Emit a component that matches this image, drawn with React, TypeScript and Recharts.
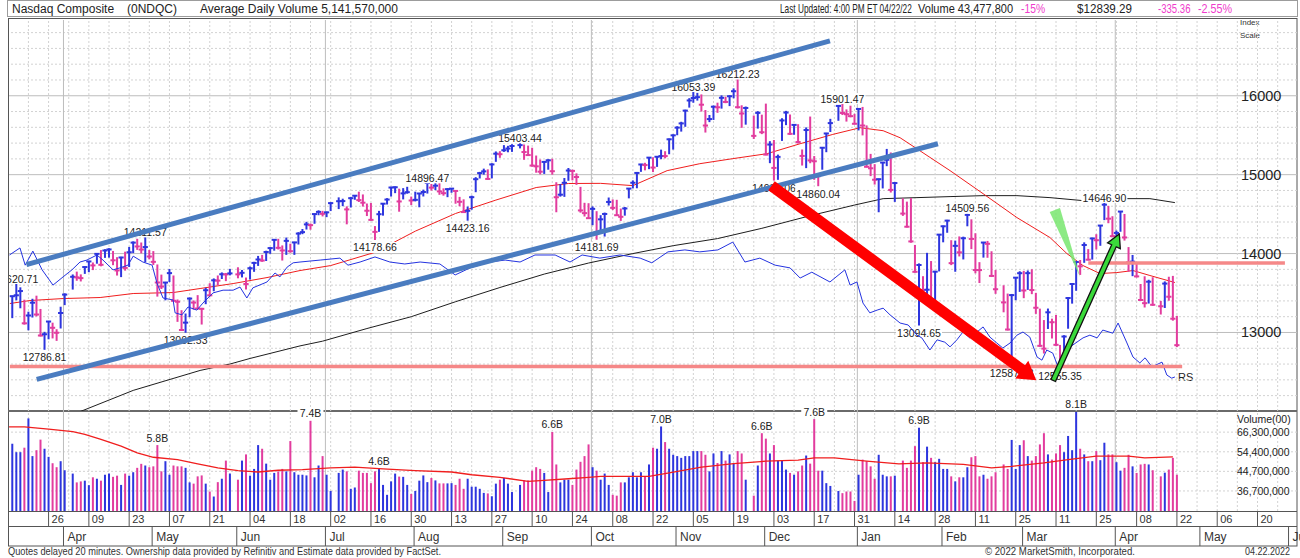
import React from 'react';
import { Bar, ComposedChart, Line, ReferenceLine, Scatter, XAxis, YAxis } from 'recharts';

const FONT = 'Arial, "Liberation Sans", Helvetica, sans-serif';
const UP = '#2d35de';
const DOWN = '#e23c9e';
const MAGENTA = '#f03ccc';

// one entry per weekday, Mon 15 Mar 2021 .. Fri 22 Apr 2022; null = market closed
const CLOSE = [
  13459.71, 13471.57, 13525.2, 13116.17, 13215.24,
  13377.54, 13227.7, 12961.89, 12977.68, 13138.73,
  13059.65, 12996.76, 13246.87, 13480.11, null,
  13705.59, 13698.38, 13688.84, 13829.31, 13900.19,
  13850.0, 13996.1, 13857.84, 14038.76, 14052.34,
  13914.77, 13786.27, 13950.22, 13818.41, 14016.81,
  14138.78, 14090.22, 14051.03, 14082.55, 13962.68,
  13895.12, 13633.5, 13582.42, 13632.84, 13752.24,
  13401.86, 13389.43, 13031.68, 13124.99, 13429.98,
  13379.05, 13303.64, 13299.74, 13535.74, 13470.99,
  13661.17, 13657.17, 13738.0, 13736.28, 13748.74,
  null, 13736.48, 13756.33, 13614.51, 13814.49,
  13881.72, 13924.98, 13911.75, 14020.33, 14069.42,
  14174.14, 14072.86, 14039.68, 14161.35, 14030.38,
  14141.48, 14253.27, 14271.73, 14369.71, 14360.39,
  14500.51, 14528.33, 14503.95, 14522.38, 14639.33,
  null, 14663.64, 14665.06, 14559.79, 14701.92,
  14733.24, 14677.65, 14644.95, 14543.13, 14427.24,
  14274.98, 14498.88, 14631.95, 14684.6, 14836.99,
  14840.71, 14660.58, 14762.58, 14778.26, 14672.68,
  14681.07, 14761.29, 14780.53, 14895.12, 14835.76,
  14860.18, 14788.09, 14765.14, 14816.26, 14822.9,
  14793.76, 14656.18, 14525.91, 14541.79, 14714.66,
  14942.65, 15019.8, 15041.86, 14945.81, 15129.5,
  15265.89, 15259.24, 15309.38, 15331.18, 15363.52,
  null, 15374.33, 15286.64, 15248.25, 15115.49,
  15105.58, 15037.76, 15161.53, 15181.92, 15043.97,
  14713.9, 14746.4, 14896.85, 15052.24, 15047.7,
  14969.97, 14546.68, 14512.44, 14448.58, 14566.7,
  14255.49, 14433.83, 14501.91, 14654.02, 14579.54,
  14486.2, 14465.92, 14571.64, 14823.43, 14897.34,
  15021.81, 15129.09, 15121.68, 15215.7, 15090.2,
  15226.71, 15235.84, 15235.72, 15448.12, 15498.39,
  15595.92, 15649.6, 15811.58, 15940.31, 15971.59,
  15982.36, 15886.54, 15622.71, 15704.28, 15860.96,
  15853.85, 15973.86, 15921.57, 15993.71, 16057.44,
  15854.76, 15775.14, 15845.23, null, 15491.66,
  15782.83, 15537.69, 15254.05, 15381.32, 15085.47,
  15225.15, 15686.92, 15786.99, 15517.37, 15630.6,
  15413.28, 15237.64, 15565.58, 15180.43, 15169.68,
  14980.94, 15341.09, 15521.89, 15653.37, null,
  15871.26, 15781.72, 15766.22, 15741.56, 15644.97,
  15832.8, 15622.72, 15100.17, 15080.86, 14935.9,
  14942.83, 15153.45, 15188.39, 14806.81, 14893.75,
  null, 14506.9, 14340.26, 14154.02, 13768.92,
  13855.13, 13539.29, 13542.12, 13352.78, 13770.57,
  14239.88, 14346.0, 14417.55, 13878.82, 14098.01,
  14015.67, 14194.45, 14490.37, 14185.64, 13791.15,
  13790.92, 14139.76, 14124.09, 13716.72, 13548.07,
  null, 13381.52, 13037.49, 13473.59, 13694.62,
  13751.4, 13532.46, 13752.02, 13537.94, 13313.44,
  12830.96, 12795.55, 13255.55, 13129.96, 12843.81,
  12581.22, 12948.62, 13436.55, 13614.78, 13893.84,
  13838.46, 14108.82, 13922.6, 14191.84, 14169.3,
  14354.9, 14619.64, 14442.28, 14220.52, 14261.5,
  14532.55, 14204.17, 13888.82, 13897.3, 13711.0,
  13411.96, 13371.57, 13643.59, 13351.08, null,
  13332.36, 13619.66, 13453.07, 13174.65, 12839.29,
];

const HIGH = [
  13460, 13620.71, 13566, 13409, 13257,
  13421, 13460, 13292, 13002, 13140,
  13118, 13035, 13320, 13490, null,
  13729, 13765, 13730, 13830, 13901,
  13881, 14000, 14038, 14049, 14061,
  14027, 13948, 13952, 14018, 14078,
  14148, 14181, 14134, 14211.57, 14038,
  14025, 13856, 13727, 13634, 13799,
  13716, 13412, 13276, 13234, 13436,
  13400, 13467, 13306, 13560, 13618,
  13679, 13716, 13755, 13748, 13800,
  null, 13820, 13786, 13690, 13829,
  13889, 13964, 13977, 14030, 14072,
  14175, 14181, 14097, 14197, 14119,
  14142, 14265, 14305, 14396, 14375,
  14501, 14542, 14535, 14526, 14642,
  null, 14706, 14689, 14592, 14712,
  14734, 14778, 14743, 14628, 14635,
  14342, 14535, 14633, 14696, 14839,
  14845, 14816, 14823, 14840, 14716,
  14778, 14762, 14804, 14896.47, 14876,
  14889, 14903, 14820, 14823, 14824,
  14797, 14712, 14681, 14590, 14728,
  14962, 15029, 15070, 15061, 15138,
  15288, 15291, 15368, 15359, 15380,
  null, 15403.44, 15376, 15362, 15335,
  15236, 15186, 15168, 15189, 15196,
  14898, 14875, 14951, 15078, 15057,
  15010, 14839, 14637, 14632, 14592,
  14531, 14480, 14513, 14704, 14680,
  14675, 14564, 14584, 14825, 14921,
  15028, 15130, 15144, 15216, 15214,
  15228, 15311, 15291, 15451, 15504,
  15607, 15664, 15817, 15963, 16053.39,
  16030, 16011, 15813, 15750, 15869,
  15906, 15999, 15982, 16000, 16087,
  16212.23, 15873, 15857, null, 15743,
  15799, 15754, 15894, 15418, 15433,
  15248, 15709, 15802, 15756, 15636,
  15633, 15313, 15593, 15730, 15229,
  15012, 15342, 15523, 15701, null,
  15872, 15901.47, 15821, 15868, 15765,
  15833, 15852, 15618, 15257, 15127,
  14943, 15155, 15320, 15275, 14897,
  null, 14694, 14652, 14697, 14103,
  13869, 13707, 14003, 13899, 13772,
  14242, 14347, 14421, 14163, 14158,
  14211, 14208, 14509.56, 14428, 14251,
  13885, 14141, 14154, 14023, 13785,
  null, 13592, 13487, 13482, 13696,
  13770, 13775, 13780, 13795, 13496,
  13296, 13151, 13297, 13169, 13215,
  12836, 12959, 13441, 13617, 13894,
  13912, 14136, 14050, 14193, 14239,
  14356, 14646.9, 14598, 14467, 14285,
  14533, 14495, 14076, 13976, 13868,
  13608, 13706, 13662, 13694, null,
  13394, 13641, 13700, 13711, 13205,
];

const LOW = [
  13188, 13414, 13313, 13106, 13034,
  13196, 13210, 12955, 12786.81, 12920,
  12931, 12900, 13057, 13353, null,
  13550, 13662, 13653, 13749, 13770,
  13797, 13878, 13845, 13952, 13955,
  13859, 13728, 13708, 13790, 13837,
  14012, 14053, 14009, 13895, 13933,
  13862, 13461, 13557, 13414, 13645,
  13399, 13141, 13026, 13002.53, 13200,
  13296, 13300, 13107, 13365, 13463,
  13529, 13605, 13684, 13657, 13730,
  null, 13693, 13704, 13551, 13677,
  13775, 13850, 13902, 13912, 14003,
  14043, 14058, 13918, 13990, 14017,
  13990, 14121, 14252, 14311, 14309,
  14384, 14492, 14477, 14468, 14545,
  null, 14570, 14607, 14377, 14590,
  14688, 14660, 14602, 14482, 14423,
  14178.66, 14282, 14487, 14628, 14729,
  14772, 14537, 14693, 14765, 14621,
  14667, 14593, 14730, 14767, 14804,
  14810, 14751, 14740, 14721, 14777,
  14638, 14606, 14524, 14423.16, 14562,
  14784, 14958, 15006, 14943, 14960,
  15169, 15220, 15295, 15290, 15295,
  null, 15339, 15195, 15245, 15108,
  15031, 15010, 15016, 15069, 15006,
  14530, 14728, 14725, 14929, 14934,
  14877, 14525, 14476, 14448, 14366,
  14181.69, 14272, 14222, 14615, 14558,
  14485, 14420, 14487, 14706, 14832,
  14834, 15042, 15061, 15076, 15039,
  15105, 15202, 15213, 15265, 15324,
  15506, 15552, 15613, 15856, 15918,
  15945, 15806, 15540, 15672, 15700,
  15790, 15843, 15912, 15875, 15974,
  15845, 15600, 15640, null, 15459,
  15590, 15520, 15253, 15152, 14931.06,
  14941, 15434, 15634, 15510, 15512,
  15400, 15122, 15089, 15151, 14941,
  14860.04, 15069, 15291, 15547, null,
  15689, 15762, 15679, 15733, 15643,
  15567, 15504, 15097, 14988, 14881,
  14530, 14832, 15114, 14780, 14661,
  null, 14484, 14337, 14144, 13765,
  13094.65, 13446, 13425, 13335, 13322,
  13780, 14149, 14270, 13860, 13776,
  13970, 13932, 14352, 14063, 13756,
  13633, 13955, 13953, 13709, 13496,
  null, 13262, 13032, 12587.88, 13415,
  13521, 13441, 13546, 13492, 13242,
  12825, 12740, 13051, 12930, 12836,
  12555.35, 12646, 13054, 13372, 13535,
  13736, 13889, 13920, 13930, 14058,
  14105, 14430, 14391, 14219, 14103,
  14283, 14171, 13777, 13720, 13704,
  13410, 13323, 13373, 13345, null,
  13234, 13317, 13409, 13156, 12821,
];

// daily volume, billions of shares
const VOLUME = [
  5.9, 5.42, 5.42, 5.67, 7.61,
  5.21, 5.53, 6.15, 5.61, 5.17,
  4.85, 4.66, 4.95, 4.52, null,
  4.37, 4.0, 4.04, 4.07, 3.89,
  4.21, 4.15, 4.07, 4.32, 4.37,
  4.23, 4.28, 3.9, 4.37, 4.28,
  4.43, 4.63, 4.82, 4.74, 4.66,
  4.7, 5.82, 4.47, 4.95, 4.32,
  4.74, 4.7, 4.7, 4.63, 4.0,
  3.95, 4.25, 4.29, 3.95, 3.65,
  3.47, 4.01, 4.15, 4.98, 4.37,
  null, 4.11, 4.98, 5.3, 4.28,
  4.58, 5.82, 5.61, 4.83, 4.11,
  4.4, 4.47, 4.58, 4.47, 6.06,
  4.43, 4.32, 4.32, 4.29, 7.43,
  4.21, 4.74, 5.21, 4.32, 3.67,
  null, 4.4, 4.55, 4.47, 3.75,
  3.8, 4.5, 4.4, 4.4, 3.97,
  4.47, 4.6, 3.9, 3.53, 4.04,
  4.37, 4.24, 4.23, 3.9, 3.56,
  3.67, 4.07, 4.29, 4.01, 4.18,
  4.08, 3.96, 3.96, 3.96, 3.97,
  3.9, 4.15, 3.75, 4.15, 3.83,
  3.83, 3.75, 3.6, 3.58, 3.48,
  3.95, 4.11, 4.18, 3.95, 3.63,
  null, 3.9, 4.08, 4.08, 4.5,
  4.66, 4.58, 4.4, 3.63, 6.64,
  4.79, 4.0, 4.11, 4.11, 3.9,
  4.55, 4.92, 5.21, 5.86, 4.66,
  4.5, 4.11, 4.37, 3.9, 3.53,
  3.5, 4.0, 4.0, 4.21, 4.43,
  4.21, 4.43, 4.25, 4.79, 5.67,
  5.61, 7.02, 6.0, 5.61, 5.28,
  5.21, 5.12, 5.21, 5.21, 5.48,
  5.48, 5.48, 5.28, 4.47, 5.35,
  4.86, 5.48, 4.98, 5.3, 4.86,
  5.48, 5.35, 4.11, null, 3.5,
  4.74, 6.56, 6.21, 5.35, 5.82,
  4.98, 4.98, 4.55, 4.4, 4.32,
  4.47, 4.74, 5.24, 4.83, 7.56,
  4.5, 4.5, 3.97, 3.86, null,
  3.67, 3.59, 3.65, 3.65, 3.32,
  4.32, 5.03, 4.95, 4.7, 4.15,
  5.28, 4.32, 4.25, 4.25, 4.28,
  null, 4.98, 4.63, 4.98, 5.76,
  6.93, 4.9, 5.73, 5.12, 4.9,
  5.07, 4.58, 4.58, 4.25, 4.04,
  4.21, 4.21, 4.66, 5.15, 5.21,
  4.25, 4.32, 4.15, 4.25, 4.43,
  null, 4.79, 4.58, 6.13, 4.58,
  5.82, 6.11, 5.21, 4.98, 5.21,
  5.86, 6.56, 5.3, 5.03, 5.35,
  5.82, 5.42, 6.38, 5.53, 8.12,
  5.61, 5.3, 4.95, 4.95, 5.48,
  5.0, 5.96, 5.3, 5.3, 4.9,
  4.5, 4.63, 5.28, 4.7, 4.4,
  4.79, 4.82, 4.79, 4.52, null,
  4.25, 4.41, 4.55, 5.12, 4.32,
];

const PREV_CLOSE = 13319.86;

// lines as [weekday slot, value]
const MA50 = [
  [-0.6, 13367], [4.4, 13405], [12.6, 13430], [21.8, 13443], [30, 13494], [39.9, 13506],
  [46.6, 13557], [54.8, 13620], [63.2, 13696], [71.4, 13785], [79, 13848], [90, 14016],
  [100, 14284], [110, 14508], [120, 14678], [130, 14837], [138, 14888], [146, 14890],
  [154, 14861], [162.5, 15051], [170.6, 15139], [178.8, 15203], [187.3, 15266],
  [195.5, 15392], [203.6, 15510], [210.4, 15595], [216.1, 15557], [220.3, 15468],
  [225.2, 15304], [232.7, 15051], [240.9, 14759], [249.3, 14456], [257.5, 14203],
  [261.7, 14000], [265.7, 13848], [269.9, 13747], [274.1, 13759], [278.1, 13785],
  [282.3, 13722], [288.5, 13633],
];

const MA200 = [
  [12, 11900], [17.6, 12013], [30, 12266], [46.6, 12519], [54, 12600], [59, 12671],
  [71.4, 12830], [77, 12890], [88, 13050], [99, 13200], [110, 13390], [121, 13570],
  [132, 13740], [143, 13880], [154, 14000], [164, 14100], [175, 14190], [186, 14320],
  [198, 14480], [209, 14615], [216.1, 14696], [224.5, 14709], [232.7, 14722],
  [240.9, 14734], [249.3, 14734], [257.5, 14709], [265.7, 14671], [274.1, 14696],
  [282.3, 14696], [288.5, 14646],
];

// relative strength line, on its own hidden 0-100 scale
const RS_LINE = [
  [-0.7, 39.9], [1.9, 41.7], [3.2, 37.3], [5.1, 40.9], [7.4, 36.1], [10.1, 32.2], [12.6, 34.3],
  [14.8, 36.1], [16.8, 38.1], [18.5, 38.6], [21, 39.9], [22.5, 38.6], [25, 36.1], [26.7, 36.6],
  [28.7, 37.3], [30, 39.6], [32.4, 38.1], [34.7, 37.3], [35.9, 32.7], [37.4, 28.9], [39.9, 28.4],
  [40.4, 25.1], [42.1, 24.6], [43.6, 26.6], [45.8, 25.8], [47.3, 27.6], [49.8, 30.2], [52.3, 30.9],
  [54.8, 30.9], [56.5, 31.7], [58.2, 28.9], [59.7, 31.5], [63.2, 33.0], [65.2, 35.3], [66.4, 34.3],
  [68.2, 36.8], [69.7, 37.9], [71.4, 38.1], [76.4, 38.6], [81.3, 39.1], [83.3, 37.3], [86.3, 38.1],
  [90, 39.4], [93.7, 38.1], [97.4, 37.6], [101.2, 38.1], [106.1, 37.6], [109.9, 34.8], [113.6, 36.6],
  [118.5, 38.1], [122.3, 38.6], [126, 38.1], [129.7, 39.9], [134.7, 39.9], [138.4, 38.1],
  [141.4, 39.9], [145.8, 39.1], [150.8, 39.9], [155.8, 39.1], [158.7, 37.9], [162.7, 40.7],
  [166.9, 41.2], [170.6, 40.7], [175.1, 41.2], [178.8, 43.2], [181.8, 38.1], [185.5, 39.1],
  [189.3, 37.3], [193, 36.6], [195.5, 34.0], [198.4, 35.5], [202.9, 33.0], [206.6, 36.1],
  [207.9, 32.2], [209.6, 33.0], [211.1, 27.6], [212.8, 25.1], [214.6, 25.8], [216.1, 26.3],
  [217.8, 24.6], [220.3, 22.5], [222.3, 22.0], [224.5, 19.4], [225.7, 18.7], [227.7, 15.6],
  [229.5, 18.2], [231.4, 17.6], [232.7, 16.4], [234.4, 18.2], [235.9, 20.2], [237.6, 18.7],
  [239.4, 20.2], [240.9, 21.5], [242.6, 18.9], [244.3, 17.4], [245.8, 16.1], [247.6, 17.4],
  [249.3, 19.4], [250.8, 20.2], [252.5, 18.9], [254.3, 13.8], [255.5, 13.0], [256.7, 15.6],
  [258.2, 14.8], [259.5, 11.3], [261.7, 15.6], [263.2, 16.9], [265.7, 18.7], [267.4, 19.4],
  [269.2, 18.7], [270.6, 20.7], [273.1, 19.9], [274.4, 22.5], [276.6, 17.4], [278.1, 13.8],
  [279.8, 12.3], [281.1, 13.6], [282.8, 11.3], [285.3, 12.5], [286.5, 9.2], [287.7, 8.4],
  [288.5, 8.7],
];

// 50-day average volume, billions
const VOL_MA50 = [
  [-0.8, 6.99], [3, 6.99], [9, 6.83], [15, 6.67], [18, 6.49], [22, 6.17], [27, 5.76], [31, 5.38],
  [35, 5.15], [41, 5.03], [46, 4.82], [51, 4.63], [56, 4.5], [61, 4.44], [66, 4.52], [72, 4.55],
  [79, 4.63], [85, 4.66], [92, 4.58], [100, 4.5], [109, 4.44], [114, 4.32], [121, 4.21],
  [128, 4.04], [131, 4.07], [138, 4.15], [143, 4.21], [146, 4.25], [158, 4.25], [163, 4.4],
  [171, 4.66], [179, 4.83], [187, 4.95], [195, 5.0], [199, 5.12], [204, 5.12], [212, 4.95],
  [220, 4.82], [227, 4.87], [236, 4.79], [243, 4.63], [248, 4.7], [256, 4.87], [262, 5.03],
  [269, 5.21], [277, 5.21], [281, 5.12], [288, 5.17],
];

const HIGH_LABELS = [1, 33, 103, 126, 169, 180, 206, 237, 271];
const LOW_LABELS = [8, 43, 90, 113, 145, 189, 200, 225, 248, 260];
const VOL_LABELS = [36, 74, 91, 134, 161, 186, 199, 225, 264];

const DAY_TICKS = ['26', '09', '23', '07', '21', '04', '18', '02', '16', '30', '13', '27', '10', '24', '08',
  '22', '05', '19', '03', '17', '31', '14', '28', '11', '25', '11', '25', '08', '22', '06', '20'];
const MONTH_TICKS = ['Apr', 'May', 'Jun', 'Jul', 'Aug', 'Sep', 'Oct', 'Nov', 'Dec', 'Jan', 'Feb', 'Mar', 'Apr', 'May', 'Jun'];
const MONTH_SLOTS = [13, 35, 56, 78, 100, 122, 144, 165, 187, 210, 231, 251, 274, 295, 317];
const QUARTER_SLOTS = [13, 78, 144, 210, 274];
const PRICE_TICKS = [13000, 14000, 15000, 16000];
const VOL_TICKS = [3.67, 4.47, 5.44, 6.63];

// drawn annotations, [weekday slot, price]
const UPPER_CHANNEL = [[3.5, 13860], [202.9, 16696]];
const LOWER_CHANNEL = [[6.05, 12405], [229.7, 15392]];
const SUPPORT_LINE = [[-0.6, 12570], [290.3, 12570]];
const RESIST_LINE = [[267, 13882], [315.8, 13882]];
const RED_ARROW = [[188.4, 14860], [254.1, 12395]];
const GREEN_ARROW = [[258.3, 12392], [274.7, 14249]];
const GREEN_WEDGE = [[258.7, 14553], [265, 13700]];

const X_DOMAIN = [-0.82, 318.8];
const P_DOMAIN = [12005, 16960];
const V_DOMAIN = [3.0, 8.2];

const DAY_SLOTS = DAY_TICKS.map((_, k) => 9 + 10 * k);
const WEEK_SLOTS = Array.from({ length: 63 }, (_, k) => 4 + 5 * k);
const PRICE_GRID = Array.from({ length: 24 }, (_, k) => 12200 + 200 * k).filter((p) => p % 1000 !== 0);

const priceRows: any[] = [];
{
  let prev = PREV_CLOSE;
  CLOSE.forEach((c, i) => {
    if (c == null) return;
    priceRows.push({ i, range: [LOW[i], HIGH[i]], high: HIGH[i], low: LOW[i], close: c, up: c >= prev });
    prev = c;
  });
}
const volRows = priceRows.map((r) => ({
  i: r.i,
  vol: [V_DOMAIN[0], VOLUME[r.i]],
  up: r.up,
  label: VOL_LABELS.includes(r.i) ? `${(VOLUME[r.i] as number).toFixed(1)}B` : null,
}));
const pts = (arr: number[][]) => arr.map(([i, v]) => ({ i, v }));
const highLabelPts = HIGH_LABELS.map((i) => ({ i, v: HIGH[i] }));
const lowLabelPts = LOW_LABELS.map((i) => ({ i, v: LOW[i] }));
const seg = (s: number[][]) => [{ x: s[0][0], y: s[0][1] }, { x: s[1][0], y: s[1][1] }];

const PriceBar = (props: any) => {
  const { x, y, width, height, payload } = props;
  if (payload == null || isNaN(y)) return null;
  const cx = x + width / 2;
  const { high, low, close, up } = payload;
  const cy = high === low ? y : y + ((high - close) / (high - low)) * height;
  const c = up ? UP : DOWN;
  return (
    <g>
      <line x1={cx} x2={cx} y1={y - 0.5} y2={y + height + 0.5} stroke={c} strokeWidth={2} />
      <line x1={cx - 2.6} x2={cx + 2.6} y1={cy} y2={cy} stroke={c} strokeWidth={2} />
    </g>
  );
};

const VolBar = (props: any) => {
  const { x, y, width, height, payload } = props;
  if (payload == null || isNaN(y)) return null;
  const cx = x + width / 2;
  return (
    <g>
      <rect x={cx - 1} y={y} width={2} height={height} fill={payload.up ? UP : DOWN} />
      {payload.label && (
        <g>
          <rect x={cx - 13} y={y - 13} width={26} height={11} fill="#fff" />
          <text x={cx} y={y - 3.5} textAnchor="middle" fontSize={10.5} fill="#222" fontFamily={FONT}>
            {payload.label}
          </text>
        </g>
      )}
    </g>
  );
};

const makeLabel = (dy: number) => (props: any) => {
  const { cx, cy, payload } = props;
  if (payload == null || isNaN(cy)) return null;
  const cyy = cy + dy;
  return (
    <g>
      <rect x={cx - 23} y={cyy - 5.5} width={46} height={11} fill="#fff" />
      <text x={cx} y={cyy + 4} textAnchor="middle" fontSize={10.5} fill="#222" fontFamily={FONT}>
        {payload.v.toFixed(2)}
      </text>
    </g>
  );
};
const HighLabel = makeLabel(-5);
const LowLabel = makeLabel(8);

const arrowShape = (shaft: number, head: number, half: number, fill: string, stroke?: string) => (props: any) => {
  const { x1, y1, x2, y2 } = props;
  if ([x1, y1, x2, y2].some((v) => typeof v !== 'number' || isNaN(v))) return null;
  const len = Math.hypot(x2 - x1, y2 - y1);
  const ux = (x2 - x1) / len;
  const uy = (y2 - y1) / len;
  const px = -uy;
  const py = ux;
  const bx = x2 - ux * head;
  const by = y2 - uy * head;
  const s = shaft / 2;
  const p = [
    [x1 + px * s, y1 + py * s], [bx + px * s, by + py * s], [bx + px * half, by + py * half], [x2, y2],
    [bx - px * half, by - py * half], [bx - px * s, by - py * s], [x1 - px * s, y1 - py * s],
  ];
  return (
    <polygon
      points={p.map((q) => q.join(',')).join(' ')}
      fill={fill}
      stroke={stroke || 'none'}
      strokeWidth={stroke ? 1.3 : 0}
    />
  );
};

const wedgeShape = (half: number, fill: string) => (props: any) => {
  const { x1, y1, x2, y2 } = props;
  if ([x1, y1, x2, y2].some((v) => typeof v !== 'number' || isNaN(v))) return null;
  const len = Math.hypot(x2 - x1, y2 - y1);
  const px = -(y2 - y1) / len;
  const py = (x2 - x1) / len;
  const p = [[x1 + px * half, y1 + py * half], [x1 - px * half, y1 - py * half], [x2, y2]];
  return <polygon points={p.map((q) => q.join(',')).join(' ')} fill={fill} />;
};

const PriceTick = (props: any) => (
  <text x={1241} y={props.y + 5} fontSize={14.5} fill="#222" fontFamily={FONT}>
    {props.payload.value}
  </text>
);
const VolTick = (props: any) => (
  <text x={1237} y={props.y + 4} fontSize={10.5} fill="#222" fontFamily={FONT}>
    {Math.round(props.payload.value * 1e7).toLocaleString('en-US')}
  </text>
);

// volume chart svg starts at page y 395; date rows are fixed below its plot
const ROW1_TOP = 116;
const ROW1_BOTTOM = 131;
const ROW2_BOTTOM = 151;

const DayTick = (props: any) => {
  const k = DAY_SLOTS.indexOf(props.payload.value);
  const x = props.x;
  return (
    <g>
      <line x1={x} x2={x} y1={ROW1_TOP} y2={ROW1_BOTTOM} stroke="#555" />
      <text x={x + 3} y={ROW1_TOP + 11.5} fontSize={11} fill="#333" fontFamily={FONT}>
        {DAY_TICKS[k]}
      </text>
    </g>
  );
};
const MonthTick = (props: any) => {
  const k = MONTH_SLOTS.indexOf(props.payload.value);
  const x = props.x - 1.2;
  return (
    <g>
      <line x1={x} x2={x} y1={ROW1_BOTTOM} y2={ROW2_BOTTOM} stroke="#555" />
      <text x={x + 4} y={ROW1_BOTTOM + 15} fontSize={12} fill="#333" fontFamily={FONT}>
        {MONTH_TICKS[k]}
      </text>
    </g>
  );
};

const gridV = (xId: string, yId: string) => [
  ...WEEK_SLOTS.map((s) => (
    <ReferenceLine key={`w${s}`} xAxisId={xId} yAxisId={yId} x={s} stroke="#d2d2d2" strokeDasharray="2 2" zIndex={-100} />
  )),
  ...QUARTER_SLOTS.map((s) => (
    <ReferenceLine key={`q${s}`} xAxisId={xId} yAxisId={yId} x={s - 0.3} stroke="#bdbdbd" zIndex={-100} />
  )),
];

// condensed header item: text squeezed horizontally with a transform
const Squeezed = ({ x, sx, fill, children }: any) => (
  <text transform={`translate(${x} 13) scale(${sx} 1)`} fill={fill || '#222'}>
    {children}
  </text>
);

const Background = () => (
  <svg width={1300} height={558} style={{ position: 'absolute', left: 0, top: 0 }}>
    <rect x={7.5} y={0.5} width={1290} height={16} fill="#fff" stroke="#9c9c9c" />
    <g fontFamily={FONT} fontSize={12} fill="#222">
      <text x={12} y={13}>Nasdaq Composite</text>
      <text x={127} y={13}>(0NDQC)</text>
      <text x={200} y={13}>Average Daily Volume 5,141,570,000</text>
      <Squeezed x={780} sx={0.69}>Last Updated: 4:00 PM ET 04/22/22</Squeezed>
      <Squeezed x={918} sx={0.92}>Volume 43,477,800</Squeezed>
      <Squeezed x={1021} sx={0.86} fill={MAGENTA}>-15%</Squeezed>
      <Squeezed x={1077} sx={0.97}>$12839.29</Squeezed>
      <Squeezed x={1158} sx={0.8} fill={MAGENTA}>-335.36</Squeezed>
      <Squeezed x={1198} sx={0.9} fill={MAGENTA}>-2.55%</Squeezed>
    </g>
    <rect x={8.5} y={18.5} width={1288.5} height={527.5} fill="none" stroke="#555" />
    <line x1={8} x2={1297} y1={411} y2={411} stroke="#6a6a6a" strokeWidth={2} />
    <line x1={8} x2={1297} y1={511.5} y2={511.5} stroke="#555" />
    <line x1={8} x2={1297} y1={526.5} y2={526.5} stroke="#555" />
    <g fontFamily={FONT} fill="#333">
      <text x={1240} y={25} fontSize={8}>Index</text>
      <text x={1240} y={38} fontSize={8}>Scale</text>
      <text x={1237} y={423} fontSize={10.5} fill="#222">Volume(00)</text>
      <text x={1178} y={381} fontSize={11} fill="#222">RS</text>
      <text x={8} y={555} fontSize={10.5} textLength={433} lengthAdjust="spacingAndGlyphs">
        Quotes delayed 20 minutes. Ownership data provided by Refinitiv and Estimate data provided by FactSet.
      </text>
      <text x={985} y={555} fontSize={10.5} textLength={150} lengthAdjust="spacingAndGlyphs">
        © 2022 MarketSmith, Incorporated.
      </text>
      <text x={1245} y={555} fontSize={10.5} textLength={45} lengthAdjust="spacingAndGlyphs">04.22.2022</text>
    </g>
  </svg>
);

const PriceChart = () => (
  <div style={{ position: 'absolute', left: 0, top: 0 }}>
    <ComposedChart width={1300} height={411} data={priceRows} margin={{ top: 20, right: 2, bottom: 0, left: 9 }}>
      <XAxis xAxisId="x" dataKey="i" type="number" domain={X_DOMAIN} allowDataOverflow hide />
      <YAxis
        yAxisId="p"
        orientation="right"
        width={1}
        type="number"
        domain={P_DOMAIN}
        allowDataOverflow
        ticks={PRICE_TICKS}
        interval={0}
        tick={PriceTick}
        tickLine={false}
        axisLine={false}
      />
      <YAxis yAxisId="rs" type="number" domain={[0, 100]} hide />
      {PRICE_GRID.map((p) => (
        <ReferenceLine key={`h${p}`} xAxisId="x" yAxisId="p" y={p} stroke="#d2d2d2" strokeDasharray="2 2" zIndex={-100} />
      ))}
      {PRICE_TICKS.map((p) => (
        <ReferenceLine key={`H${p}`} xAxisId="x" yAxisId="p" y={p} stroke="#bdbdbd" zIndex={-100} />
      ))}
      {gridV('x', 'p')}
      <Line xAxisId="x" yAxisId="p" data={pts(MA200)} dataKey="v" type="linear" stroke="#1e1e1e" strokeWidth={1} dot={false} activeDot={false} isAnimationActive={false} zIndex={250} />
      <Line xAxisId="x" yAxisId="p" data={pts(MA50)} dataKey="v" type="linear" stroke="#f01e1e" strokeWidth={1} dot={false} activeDot={false} isAnimationActive={false} zIndex={250} />
      <Bar xAxisId="x" yAxisId="p" dataKey="range" barSize={2} shape={PriceBar} isAnimationActive={false} zIndex={300} />
      <Scatter xAxisId="x" yAxisId="p" data={highLabelPts} dataKey="v" shape={HighLabel} isAnimationActive={false} zIndex={350} />
      <Scatter xAxisId="x" yAxisId="p" data={lowLabelPts} dataKey="v" shape={LowLabel} isAnimationActive={false} zIndex={350} />
      <Line xAxisId="x" yAxisId="rs" data={pts(RS_LINE)} dataKey="v" type="linear" stroke="#2433e0" strokeWidth={1} dot={false} activeDot={false} isAnimationActive={false} zIndex={400} />
      <ReferenceLine xAxisId="x" yAxisId="p" segment={seg(SUPPORT_LINE)} stroke="#f58888" strokeWidth={3.5} zIndex={700} />
      <ReferenceLine xAxisId="x" yAxisId="p" segment={seg(RESIST_LINE)} stroke="#f58888" strokeWidth={3.5} zIndex={700} />
      <ReferenceLine xAxisId="x" yAxisId="p" segment={seg(UPPER_CHANNEL)} stroke="#4a7cc0" strokeWidth={5} zIndex={710} />
      <ReferenceLine xAxisId="x" yAxisId="p" segment={seg(LOWER_CHANNEL)} stroke="#4a7cc0" strokeWidth={5} zIndex={710} />
      <ReferenceLine xAxisId="x" yAxisId="p" segment={seg(RED_ARROW)} shape={arrowShape(11, 18, 11, '#ff0000')} zIndex={720} />
      <ReferenceLine xAxisId="x" yAxisId="p" segment={seg(GREEN_WEDGE)} shape={wedgeShape(5.5, 'rgba(120,230,110,0.85)')} zIndex={720} />
      <ReferenceLine xAxisId="x" yAxisId="p" segment={seg(GREEN_ARROW)} shape={arrowShape(5, 13, 7, '#3ad93a', '#111')} zIndex={730} />
    </ComposedChart>
  </div>
);

const VolumeChart = () => (
  <div style={{ position: 'absolute', left: 0, top: 395 }}>
    <ComposedChart width={1300} height={153} data={volRows} margin={{ top: 16, right: 2, bottom: 2, left: 9 }}>
      <XAxis
        xAxisId="d"
        dataKey="i"
        type="number"
        domain={X_DOMAIN}
        ticks={DAY_SLOTS}
        interval={0}
        tick={DayTick}
        tickLine={false}
        axisLine={false}
        height={15}
      />
      <XAxis
        xAxisId="m"
        dataKey="i"
        type="number"
        domain={X_DOMAIN}
        ticks={MONTH_SLOTS}
        interval={0}
        tick={MonthTick}
        tickLine={false}
        axisLine={false}
        height={20}
      />
      <YAxis
        yAxisId="v"
        orientation="right"
        width={1}
        type="number"
        scale="log"
        domain={V_DOMAIN}
        ticks={VOL_TICKS}
        interval={0}
        tick={VolTick}
        tickLine={false}
        axisLine={false}
      />
      {VOL_TICKS.map((v) => (
        <ReferenceLine key={`vh${v}`} xAxisId="d" yAxisId="v" y={v} stroke="#d2d2d2" strokeDasharray="2 2" zIndex={-100} />
      ))}
      {gridV('d', 'v')}
      <Bar xAxisId="d" yAxisId="v" dataKey="vol" barSize={2} shape={VolBar} isAnimationActive={false} />
      <Line xAxisId="m" yAxisId="v" data={pts(VOL_MA50)} dataKey="v" type="linear" stroke="#f01e1e" strokeWidth={1.3} dot={false} activeDot={false} isAnimationActive={false} />
    </ComposedChart>
  </div>
);

export default function App() {
  return (
    <div style={{ position: 'absolute', left: 0, top: 0, width: 1300, height: 558, background: '#fff', overflow: 'hidden' }}>
      <Background />
      <PriceChart />
      <VolumeChart />
    </div>
  );
}
